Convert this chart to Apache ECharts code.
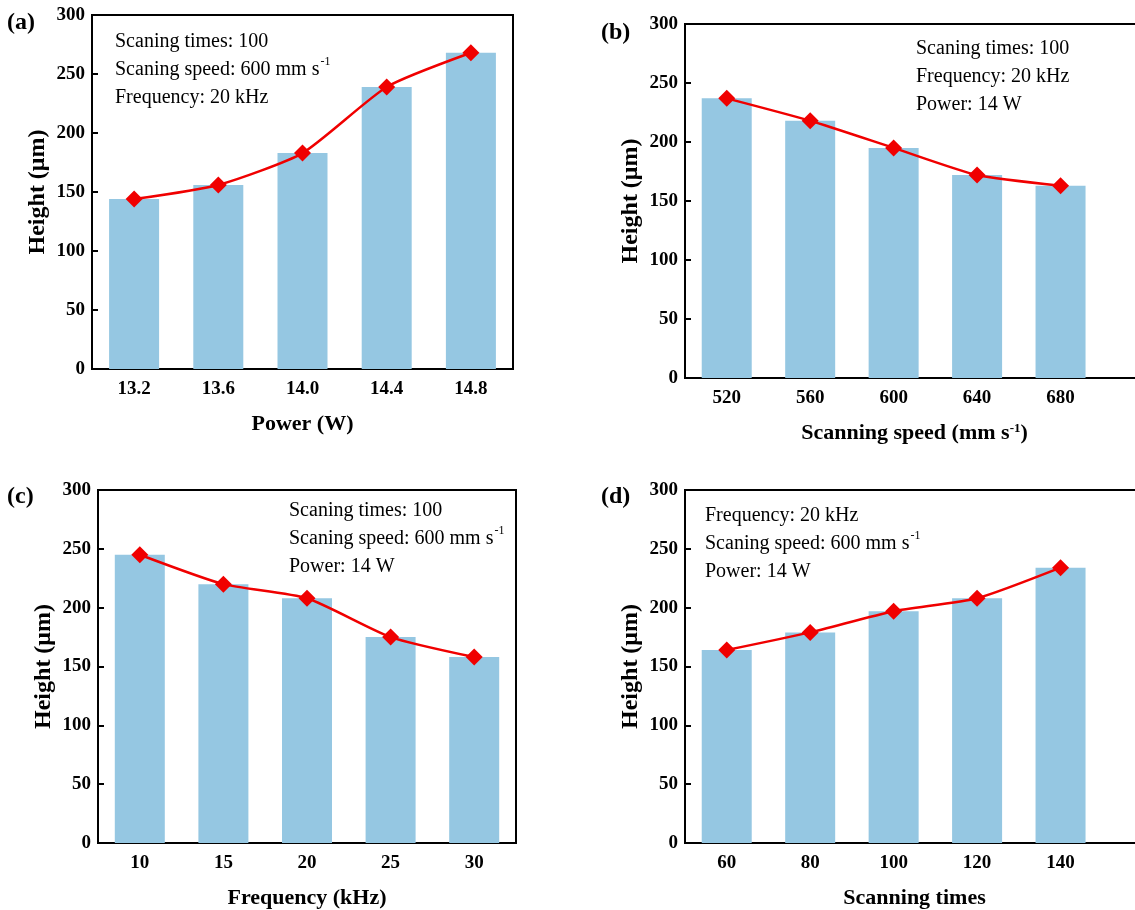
<!DOCTYPE html>
<html>
<head>
<meta charset="utf-8">
<script src="https://cdn.jsdelivr.net/npm/echarts@6/dist/echarts.min.js"></script>
<style>
html,body{margin:0;padding:0;background:#fff;}
#chart{width:1135px;height:910px;}
</style>
</head>
<body>
<div id="chart"></div>
<script>
// ---- data ----
const powerValues = [13.2, 13.6, 14.0, 14.4, 14.8];
const powerHeights = [144, 156, 183, 239, 268];
const speedValues = [520, 560, 600, 640, 680];
const speedHeights = [237, 218, 195, 172, 163];
const freqValues = [10, 15, 20, 25, 30];
const freqHeights = [245, 220, 208, 175, 158];
const timesValues = [60, 80, 100, 120, 140];
const timesHeights = [164, 179, 197, 208, 234];
const heightTicks = [0, 50, 100, 150, 200, 250, 300];
const panelLabels = ['(a)', '(b)', '(c)', '(d)'];
const xNames = ['Power (W)', 'Scanning speed (mm s{sup|-1})', 'Frequency (kHz)', 'Scanning times'];
const yName = 'Height (μm)';
// each note line: [main text, superscript]
const notes = [
  [['Scaning times: 100', ''], ['Scaning speed: 600 mm s', '-1'], ['Frequency: 20 kHz', '']],
  [['Scaning times: 100', ''], ['Frequency: 20 kHz', ''], ['Power: 14 W', '']],
  [['Scaning times: 100', ''], ['Scaning speed: 600 mm s', '-1'], ['Power: 14 W', '']],
  [['Frequency: 20 kHz', ''], ['Scaning speed: 600 mm s', '-1'], ['Power: 14 W', '']]
];

// ---- styling / layout ----
const FONT = 'Liberation Serif';
const BAR = '#95C7E2';
const RED = '#F00000';
const grids = [
  {left: 92, top: 15, width: 421, height: 354},
  {left: 685, top: 24, width: 459, height: 354},
  {left: 98, top: 490, width: 418, height: 353},
  {left: 685, top: 490, width: 459, height: 353}
];
const xRanges = [[13.0, 15.0], [500, 720], [7.5, 32.5], [50, 160]];
const xsets = [powerValues, speedValues, freqValues, timesValues];
const ysets = [powerHeights, speedHeights, freqHeights, timesHeights];
const labelFmt = [v => v.toFixed(1), v => String(v), v => String(v), v => String(v)];
const noteBoxes = [[115, 28], [916, 35], [289, 497], [705, 502]];
const panelLabelPos = [[7, 11], [601, 21], [7, 485], [601, 485]];

const option = {
  backgroundColor: '#fff',
  animation: false,
  grid: grids.map(g => Object.assign({show: true, borderColor: '#000', borderWidth: 2, backgroundColor: 'transparent',
    containLabel: false, outerBoundsMode: 'none'}, g)),
  xAxis: grids.map((g, i) => ({
    type: 'value', gridIndex: i, min: xRanges[i][0], max: xRanges[i][1],
    name: xNames[i], nameLocation: 'middle', nameGap: 44,
    nameTextStyle: {fontFamily: FONT, fontWeight: 'bold', fontSize: 22, color: '#000',
      rich: {sup: {fontFamily: FONT, fontWeight: 'bold', fontSize: 13, color: '#000', verticalAlign: 'top', padding: [0, 0, 8, 0]}}},
    axisLine: {show: true, onZero: false, lineStyle: {color: '#000', width: 2}},
    axisTick: {show: true, inside: true, length: 6, lineStyle: {color: '#000', width: 2}, customValues: xsets[i]},
    axisLabel: {show: true, margin: 11, fontFamily: FONT, fontWeight: 'bold', fontSize: 19, color: '#000',
      customValues: xsets[i], formatter: labelFmt[i]},
    splitLine: {show: false}
  })),
  yAxis: grids.map((g, i) => ({
    type: 'value', gridIndex: i, min: 0, max: 300, interval: 50,
    name: yName, nameLocation: 'middle', nameGap: 42,
    nameTextStyle: {fontFamily: FONT, fontWeight: 'bold', fontSize: 24, color: '#000'},
    axisLine: {show: true, onZero: false, lineStyle: {color: '#000', width: 2}},
    axisTick: {show: true, inside: true, length: 6, lineStyle: {color: '#000', width: 2}, customValues: heightTicks},
    axisLabel: {show: true, margin: 7, fontFamily: FONT, fontWeight: 'bold', fontSize: 19, color: '#000', customValues: heightTicks},
    splitLine: {show: false}
  })),
  series: [],
  graphic: []
};

for (let i = 0; i < 4; i++) {
  const pts = xsets[i].map((x, k) => [x, ysets[i][k]]);
  option.series.push({
    type: 'bar', xAxisIndex: i, yAxisIndex: i, data: pts, barWidth: 50,
    itemStyle: {color: BAR}, z: 2
  });
  option.series.push({
    type: 'line', xAxisIndex: i, yAxisIndex: i, data: pts, smooth: 0.2,
    symbol: 'diamond', symbolSize: [17, 17],
    lineStyle: {color: RED, width: 2.5}, itemStyle: {color: RED}, z: 3
  });
  option.graphic.push({
    type: 'text', left: panelLabelPos[i][0], top: panelLabelPos[i][1], z: 10,
    style: {text: panelLabels[i], fontFamily: FONT, fontWeight: 'bold', fontSize: 24, fill: '#000'}
  });
  option.graphic.push({
    type: 'text', left: noteBoxes[i][0], top: noteBoxes[i][1], z: 10,
    style: {
      text: notes[i].map(l => '{n|' + l[0] + '}' + (l[1] ? '{sup|' + l[1] + '}' : '')).join('\n'),
      fontFamily: FONT, fontSize: 20, fill: '#000', lineHeight: 28,
      rich: {
        n: {fontFamily: FONT, fontSize: 20, fill: '#000', lineHeight: 28},
        sup: {fontFamily: FONT, fontSize: 12, fill: '#000', lineHeight: 28, verticalAlign: 'top', padding: [0, 0, 10, 1]}
      }
    }
  });
}

const chart = echarts.init(document.getElementById('chart'), null, {renderer: 'canvas'});
chart.setOption(option);
</script>
</body>
</html>
